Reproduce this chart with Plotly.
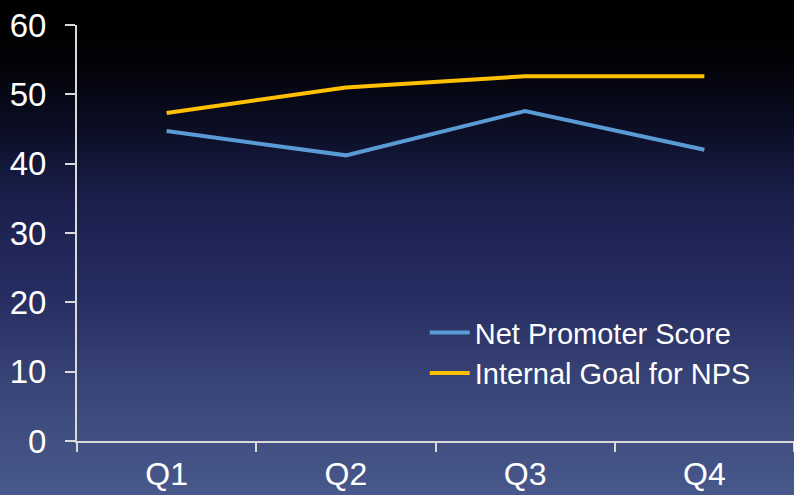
import plotly.graph_objects as go

# Quarterly Net Promoter Score against the internal target
quarters = ["Q1", "Q2", "Q3", "Q4"]
nps_score = [44.7, 41.2, 47.6, 42.0]
nps_goal = [47.3, 51.0, 52.6, 52.6]

W, H = 794, 495
M_L, M_R, M_T, M_B = 77, 0, 25, 54
plot_h = H - M_T - M_B

# vertical background gradient (pixel row -> rgb)
grad_stops = [
    (0, (0, 0, 0)),
    (60, (2, 2, 6)),
    (120, (10, 12, 32)),
    (200, (26, 31, 76)),
    (300, (39, 46, 98)),
    (400, (60, 72, 122)),
    (495, (72, 88, 138)),
]


def grad_color(p):
    for (p0, c0), (p1, c1) in zip(grad_stops, grad_stops[1:]):
        if p0 <= p <= p1:
            t = (p - p0) / (p1 - p0)
            return "rgb(%d,%d,%d)" % tuple(round(a + (b - a) * t) for a, b in zip(c0, c1))
    return "rgb(%d,%d,%d)" % grad_stops[-1][1]


def px_to_paper(p):
    return (H - M_B - p) / plot_h


band = 3
shapes = []
rows = list(range(0, H, band))
for i, p in enumerate(rows):
    bottom = px_to_paper(p + band + 0.5) if i < len(rows) - 1 else -1.0
    top = px_to_paper(p) if i > 0 else 2.0
    shapes.append(dict(
        type="rect", xref="paper", yref="paper", layer="below",
        x0=-0.2, x1=1.1, y0=bottom, y1=top,
        fillcolor=grad_color(p + band / 2), line=dict(width=0),
    ))

fig = go.Figure()
fig.add_trace(go.Scatter(
    x=quarters, y=nps_score, mode="lines", name="Net Promoter Score",
    line=dict(color="#5b9bd5", width=4),
))
fig.add_trace(go.Scatter(
    x=quarters, y=nps_goal, mode="lines", name="Internal Goal for NPS",
    line=dict(color="#ffc000", width=4),
))

axis_col = "#d9d9d9"
fig.update_layout(
    width=W, height=H,
    margin=dict(l=M_L, r=M_R, t=M_T, b=M_B, pad=0, autoexpand=False),
    paper_bgcolor="#000000",
    plot_bgcolor="rgba(0,0,0,0)",
    shapes=shapes,
    font=dict(family="Liberation Sans, Arial, sans-serif", color="#ffffff", size=30),
    showlegend=True,
    legend=dict(
        x=0.485, y=0.322, xanchor="left", yanchor="top",
        bgcolor="rgba(0,0,0,0)", font=dict(size=29, color="#ffffff"),
        itemwidth=40, tracegroupgap=0,
    ),
    xaxis=dict(
        range=[-0.5, 3.5], showgrid=False, zeroline=False, automargin=False,
        showline=True, linecolor=axis_col, linewidth=2,
        ticks="outside", tickson="boundaries", ticklen=9, tickcolor=axis_col, tickwidth=2,
        tickfont=dict(size=32, color="#ffffff"), ticklabelstandoff=4,
    ),
    yaxis=dict(
        range=[0, 60], dtick=10, showgrid=False, zeroline=False, automargin=False,
        showline=True, linecolor=axis_col, linewidth=2,
        ticks="outside", ticklen=10, tickcolor=axis_col, tickwidth=2,
        tickfont=dict(size=33, color="#ffffff"), ticklabelstandoff=12,
    ),
)

fig.write_html("out.html")
